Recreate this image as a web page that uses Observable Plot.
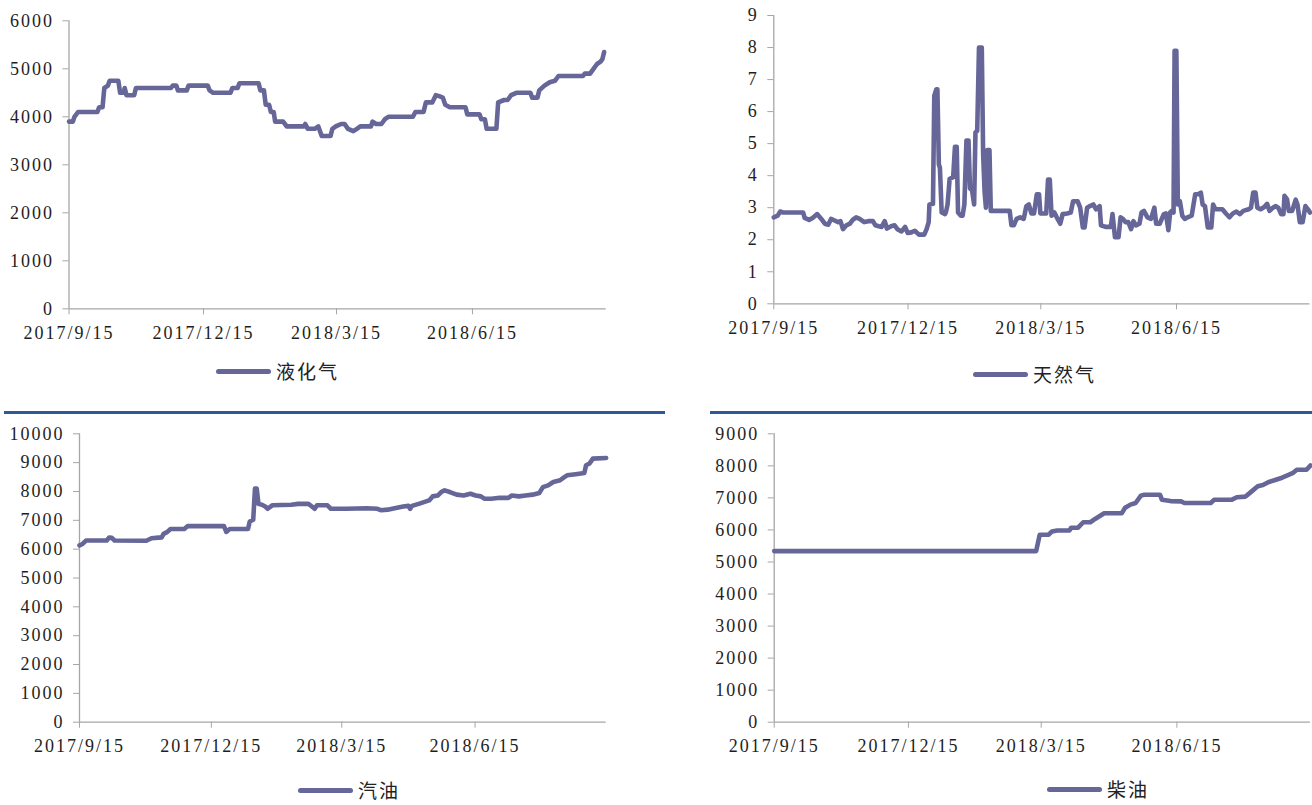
<!DOCTYPE html>
<html>
<head>
<meta charset="utf-8">
<script src="https://cdn.jsdelivr.net/npm/d3@7"></script>
<script src="https://cdn.jsdelivr.net/npm/@observablehq/plot@0.6"></script>
<style>
  html, body { margin: 0; padding: 0; background: #fff; }
  #root { position: relative; width: 1312px; height: 805px; overflow: hidden; }
  .panel { position: absolute; }
  .sep { position: absolute; height: 3px; background: #2d5a96; }
  .legend { position: absolute; display: flex; align-items: center; height: 20px; line-height: 20px; font-family: "Noto Sans CJK SC", sans-serif; font-size: 19px; letter-spacing: 2px; color: #222; white-space: nowrap; }
  .legend .swatch { display: inline-block; height: 5px; border-radius: 3px; background: #666699; margin-right: 5px; }
</style>
</head>
<body>
<div id="root"></div>
<script>
// ---------- DATA (days since 2017-09-15) ----------
const xTickDates = ["2017-09-15", "2017-12-15", "2018-03-15", "2018-06-15"];
const xDomainDays = [0, 363.5];

// 液化气 (LPG)
const lpgDays = [0,2.6,3.7,6.1,19.2,20.4,22.7,23.9,26.3,27.5,
  33.4,34.6,37.0,37.7,38.9,44.1,45.3,69.0,70.2,72.6,
  73.7,79.7,80.9,93.9,95.1,97.5,109.3,110.5,114.1,115.3,
  128.3,129.5,131.9,133.1,135.4,136.6,138.5,139.5,144.9,147.3,
  159.2,159.9,161.5,166.3,168.7,171.0,177.0,178.2,180.5,184.1,
  186.5,188.8,192.4,194.8,197.1,200.7,204.3,205.4,207.8,211.4,
  213.8,216.1,232.7,234.4,239.9,241.5,245.8,248.2,250.5,252.9,
  254.6,257.7,268.3,269.5,277.8,279.0,281.4,282.6,289.2,290.4,
  294.4,296.8,299.2,302.7,312.2,313.4,317.0,318.2,321.7,325.3,
  328.8,331.2,347.8,349.0,352.6,354.9,357.3,359.7,360.9,362.1];
const lpgValues = [3900,3900,4000,4100,4100,4200,4200,4600,4650,4750,
  4750,4500,4500,4600,4450,4450,4600,4600,4650,4650,
  4550,4550,4650,4650,4550,4500,4500,4600,4600,4700,
  4700,4550,4550,4250,4250,4100,4100,3900,3900,3800,
  3800,3850,3750,3750,3800,3600,3600,3750,3800,3850,
  3850,3750,3700,3750,3800,3800,3800,3900,3850,3850,
  3950,4000,4000,4100,4100,4300,4300,4450,4430,4400,
  4250,4200,4200,4050,4050,3950,3950,3750,3750,4300,
  4350,4350,4450,4500,4500,4400,4400,4550,4650,4720,
  4750,4850,4850,4900,4900,5000,5100,5150,5200,5350];
const lpgTicks = [0,1000,2000,3000,4000,5000,6000];

// 天然气 (natural gas)
const gasDays = [0,2.65,4.3,6.2,19.9,20.9,23.9,26.3,29.4,32.2,
  34.6,36.9,38.8,41.2,43.6,45.2,46.9,49.2,51.6,53.5,
  55.8,58.2,61.3,64.1,67.2,68.9,71.2,73.1,75.2,76.7,
  79.5,81.9,83.8,86.6,89.0,90.8,93.2,95.6,98.4,102.0,
  103.6,105.0,105.5,107.9,108.8,110.2,110.9,111.9,112.6,113.8,
  116.1,116.9,117.8,119.2,121.6,122.8,124.0,124.9,126.8,128.0,
  129.2,130.6,132.0,133.0,134.4,135.8,136.7,137.9,139.1,141.0,
  141.9,142.9,143.8,144.8,146.2,147.1,159.9,161.1,162.7,164.6,
  167.0,169.4,171.2,172.9,174.6,176.4,178.3,179.8,180.7,184.7,
  185.9,187.1,188.3,190.2,191.8,194.2,195.8,198.9,201.3,202.9,
  206.0,207.7,209.5,210.7,212.4,214.3,216.6,218.5,220.9,221.8,
  224.9,228.5,229.6,231.3,233.7,235.1,236.7,238.4,240.3,242.2,
  243.8,245.5,247.9,249.3,250.9,253.3,255.7,258.0,259.2,261.6,
  264.4,265.8,267.5,268.7,269.8,271.0,271.7,272.9,273.9,275.3,
  276.9,278.6,280.5,283.3,285.7,287.6,289.5,290.7,292.3,294.2,
  296.6,297.8,299.4,301.8,304.1,306.5,308.9,311.2,313.6,316.0,
  318.3,321.9,323.5,325.0,326.6,327.8,330.1,332.5,334.4,336.1,
  338.4,340.1,342.0,343.9,345.5,346.2,347.9,349.1,351.4,353.8,
  355.0,356.6,358.5,360.4,362.1,363.5];
const gasValues = [2.70,2.75,2.88,2.85,2.85,2.68,2.62,2.68,2.80,2.65,
  2.50,2.47,2.65,2.60,2.55,2.58,2.33,2.45,2.50,2.62,
  2.70,2.65,2.55,2.58,2.58,2.45,2.42,2.40,2.58,2.35,
  2.42,2.45,2.33,2.26,2.40,2.21,2.23,2.28,2.16,2.16,
  2.33,2.55,3.10,3.12,6.50,6.70,6.70,4.35,4.25,2.85,
  2.80,2.90,3.10,3.90,3.95,4.90,4.90,2.85,2.75,2.75,
  3.10,5.10,5.10,3.60,3.55,3.10,5.35,5.40,8.00,8.00,
  4.70,3.50,3.00,4.80,4.80,2.90,2.90,2.45,2.45,2.65,
  2.70,2.65,3.05,3.10,2.82,2.82,3.42,3.42,2.82,2.82,
  3.88,3.88,2.75,2.85,2.70,2.50,2.80,2.82,2.85,3.20,
  3.20,3.00,2.38,2.38,3.00,3.05,3.10,2.95,3.05,2.45,
  2.40,2.40,2.80,2.08,2.08,2.70,2.65,2.55,2.55,2.33,
  2.58,2.45,2.50,2.85,2.90,2.70,2.65,3.00,2.50,2.50,
  2.80,2.82,2.30,2.85,2.90,2.85,7.90,7.90,3.10,3.20,
  2.75,2.65,2.70,2.75,3.42,3.42,3.47,3.10,3.05,2.38,
  2.38,3.10,2.95,2.95,2.95,2.82,2.70,2.82,2.88,2.80,
  2.90,2.95,3.00,3.47,3.47,3.00,2.95,3.02,3.12,2.90,
  3.00,3.05,3.00,2.80,2.80,3.37,3.27,2.90,2.90,3.25,
  3.10,2.55,2.55,3.05,2.95,2.85];
const gasTicks = [0,1,2,3,4,5,6,7,8,9];

// 汽油 (gasoline)
const gasolineDays = [0,2.1,4.5,18.8,20.4,22.3,24.2,46.1,49.7,54.5,
  56.8,58.0,60.4,62.8,72.3,74.7,99.7,101.3,103.7,116.3,
  117.5,119.9,121.1,122.3,123.5,125.9,128.2,129.9,133.0,146.1,
  150.8,158.0,160.4,162.3,163.9,171.1,173.5,184.2,198.4,205.6,
  208.0,212.7,217.5,223.4,227.0,228.2,229.4,234.1,237.7,241.3,
  243.7,247.2,249.6,252.0,255.6,260.3,265.1,269.8,273.4,277.0,
  279.4,284.1,290.1,296.0,298.4,303.2,307.9,312.7,317.4,319.8,
  323.4,327.0,331.7,334.1,336.5,342.4,348.4,349.6,352.0,354.3,
  363.5];
const gasolineValues = [6130,6180,6300,6300,6400,6390,6300,6290,6380,6400,
  6410,6530,6590,6700,6700,6800,6800,6600,6700,6700,
  6960,7020,8100,8100,7570,7540,7480,7400,7520,7540,
  7570,7570,7480,7400,7520,7520,7400,7400,7420,7400,
  7350,7370,7420,7480,7500,7400,7500,7570,7630,7690,
  7830,7860,7980,8040,7980,7890,7860,7920,7860,7830,
  7750,7750,7780,7780,7860,7830,7860,7890,7950,8150,
  8210,8330,8390,8480,8560,8600,8640,8910,8970,9140,
  9160];
const gasolineTicks = [0,1000,2000,3000,4000,5000,6000,7000,8000,9000,10000];

// 柴油 (diesel)
const dieselDays = [0,177.6,180.0,185.9,188.3,191.8,200.1,201.3,206.0,209.5,
  214.3,217.8,220.2,223.7,235.6,237.9,241.5,245.0,248.6,250.9,
  261.6,262.8,268.7,275.8,278.1,295.9,298.2,310.0,313.6,319.5,
  323.1,327.8,331.3,334.9,339.6,344.3,347.9,351.4,354.3,360.9,
  363.5];
const dieselValues = [5340,5340,5850,5850,5950,5980,5980,6070,6070,6240,
  6240,6350,6420,6520,6520,6690,6790,6840,7070,7100,
  7100,6940,6900,6890,6840,6840,6940,6940,7020,7040,
  7180,7360,7400,7490,7560,7630,7700,7770,7880,7880,
  8010];
const dieselTicks = [0,1000,2000,3000,4000,5000,6000,7000,8000,9000];

// ---------- RENDERING ----------
const LINE = "#666699";
const AXIS = "#a6a6a6";
const TEXT = "#1e1e1e";
const DAY = 864e5;
const start = new Date(Date.UTC(2017, 8, 15));
const toDate = d => new Date(start.getTime() + d * DAY);
const fmt = d => `${d.getUTCFullYear()}/${d.getUTCMonth() + 1}/${d.getUTCDate()}`;
const xTicks = xTickDates.map(s => new Date(s + "T00:00:00Z"));
const xDomain = xDomainDays.map(toDate);

function panel({days, values, ticks, left, top, width, height, mL, mR, mT, mB}) {
  const data = days.map((d, i) => ({date: toDate(d), value: values[i]}));
  const yDomain = [ticks[0], ticks[ticks.length - 1]];
  const chart = Plot.plot({
    width, height,
    marginLeft: mL, marginRight: mR, marginTop: mT, marginBottom: mB,
    style: {fontFamily: "'Liberation Serif', serif", fontSize: "18px", letterSpacing: "2px", background: "transparent", color: TEXT, overflow: "visible"},
    x: {type: "utc", domain: xDomain},
    y: {domain: yDomain},
    marks: [
      Plot.ruleY([yDomain[0]], {stroke: AXIS, strokeWidth: 1.3}),
      Plot.ruleX([xDomain[0]], {stroke: AXIS, strokeWidth: 1.3}),
      Plot.axisY({ticks, tickSize: 6, tickPadding: 9, stroke: AXIS, fill: TEXT, label: null, tickFormat: d => String(d)}),
      Plot.axisX({ticks: xTicks, tickSize: 6, tickPadding: 11, stroke: AXIS, fill: TEXT, label: null, tickFormat: fmt}),
      Plot.line(data, {x: "date", y: "value", stroke: LINE, strokeWidth: 4.6, strokeLinejoin: "round", strokeLinecap: "round"})
    ]
  });
  const div = document.createElement("div");
  div.className = "panel";
  div.style.left = left + "px";
  div.style.top = top + "px";
  div.appendChild(chart);
  document.getElementById("root").appendChild(div);
}

function legend(label, left, top, lineW) {
  const div = document.createElement("div");
  div.className = "legend";
  div.style.left = left + "px";
  div.style.top = top + "px";
  const sw = document.createElement("span");
  sw.className = "swatch";
  sw.style.width = lineW + "px";
  const tx = document.createElement("span");
  tx.textContent = label;
  div.appendChild(sw);
  div.appendChild(tx);
  document.getElementById("root").appendChild(div);
}

function sep(left, top, width) {
  const div = document.createElement("div");
  div.className = "sep";
  div.style.left = left + "px";
  div.style.top = top + "px";
  div.style.width = width + "px";
  document.getElementById("root").appendChild(div);
}

panel({days: lpgDays, values: lpgValues, ticks: lpgTicks, left: 0, top: 0, width: 660, height: 345, mL: 68.5, mR: 54.3, mT: 20.3, mB: 36.7});
panel({days: gasDays, values: gasValues, ticks: gasTicks, left: 700, top: 0, width: 612, height: 345, mL: 73.3, mR: 2.5, mT: 15, mB: 41.7});
panel({days: gasolineDays, values: gasolineValues, ticks: gasolineTicks, left: 0, top: 400, width: 660, height: 360, mL: 79, mR: 54.3, mT: 33.3, mB: 38.3});
panel({days: dieselDays, values: dieselValues, ticks: dieselTicks, left: 700, top: 400, width: 612, height: 360, mL: 73.7, mR: 2.1, mT: 33.3, mB: 38.3});

sep(4, 411, 661);
sep(710, 411, 602);

legend("液化气", 216, 361, 55);
legend("天然气", 973, 364, 55);
legend("汽油", 298, 780, 55);
legend("柴油", 1047, 779, 55);
</script>
</body>
</html>
